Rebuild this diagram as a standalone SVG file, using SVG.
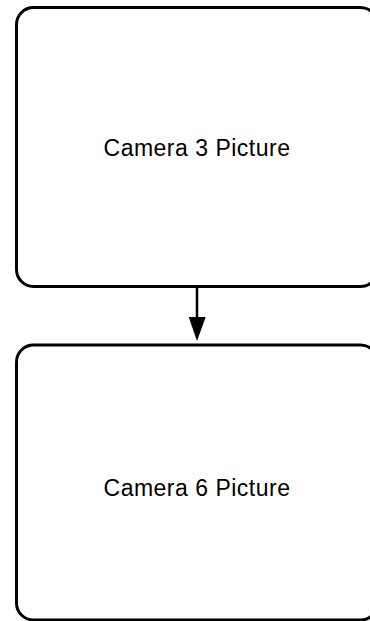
<svg xmlns="http://www.w3.org/2000/svg" width="370" height="621" viewBox="0 0 370 621">
<defs>
<style>
.box{fill:#fff;stroke:#000;stroke-width:3}
.label{font-family:"Liberation Sans",Arial,sans-serif;font-size:23px;letter-spacing:0.5px;fill:#000;text-anchor:middle}
.edge{stroke:#000;stroke-width:2.5;fill:none}
.head{fill:#000}
</style>
</defs>
<rect width="370" height="621" fill="#fff"/>
<g id="camera3">
<rect class="box" x="16.5" y="7.5" width="361" height="279" rx="17" ry="17"/>
<text class="label" x="197" y="156">Camera 3 Picture</text>
</g>
<g id="camera6">
<rect class="box" x="16.5" y="345" width="361" height="275" rx="17" ry="17"/>
<text class="label" x="197" y="496">Camera 6 Picture</text>
</g>
<g id="connectors">
<line class="edge" x1="197" y1="288" x2="197" y2="318"/>
<polygon class="head" points="188.7,317 205.7,317 197,341"/>
</g>
</svg>
